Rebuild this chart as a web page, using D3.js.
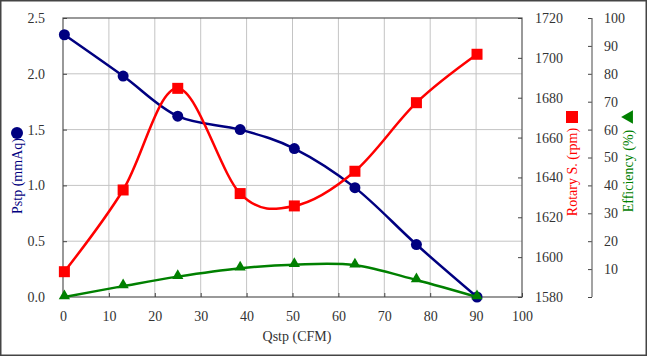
<!DOCTYPE html>
<html><head><meta charset="utf-8">
<script src="https://cdn.jsdelivr.net/npm/d3@7"></script>
<style>
html,body{margin:0;padding:0;background:#fff;}
svg text{font-family:"Liberation Serif","Times New Roman",serif;}
</style></head>
<body><svg id="c" width="647" height="356"></svg>
<script>
// ---- data ----
const qstp       = [0.3, 13.1, 25.0, 38.6, 50.4, 63.6, 77.0, 90.2];
const pstp       = [2.35, 1.98, 1.62, 1.50, 1.33, 0.98, 0.47, 0.00];
const rotary     = [1592.7, 1633.7, 1684.7, 1631.9, 1625.7, 1643.1, 1677.5, 1701.8];
const efficiency = [0.0, 3.9, 7.3, 10.3, 11.6, 11.4, 6.1, 0.0];
const xTicks     = [0,10,20,30,40,50,60,70,80,90,100];
const pTicks     = [0,0.5,1.0,1.5,2.0,2.5];
const rTicks     = [1580,1600,1620,1640,1660,1680,1700,1720];
const eTicks     = [0,10,20,30,40,50,60,70,80,90,100];

const svg = d3.select("#c");
const L=63, R=522, T=18, B=297, EX=592;
const x  = d3.scaleLinear().domain([0,100]).range([L,R]);
const yP = d3.scaleLinear().domain([0,2.5]).range([B,T]);
const yR = d3.scaleLinear().domain([1580,1720]).range([B,T]);
const yE = d3.scaleLinear().domain([0,100]).range([B,T]);

const NAVY="#000080", RED="#ff0000", GREEN="#008000";

// outer border
svg.append("rect").attr("x",0.75).attr("y",0.75).attr("width",645.5).attr("height",354.5)
  .attr("fill","#fff").attr("stroke","#444").attr("stroke-width",1.5);

// grid
const g = svg.append("g");
g.selectAll(".vg").data(xTicks.filter(d=>d>0&&d<100)).join("line")
  .attr("x1",d=>x(d)).attr("x2",d=>x(d)).attr("y1",T).attr("y2",B)
  .attr("stroke","#c4c4c4").attr("stroke-width",1);
g.selectAll(".hg").data(pTicks.filter(d=>d>0&&d<2.5)).join("line")
  .attr("x1",L).attr("x2",R).attr("y1",d=>yP(d)).attr("y2",d=>yP(d))
  .attr("stroke","#c4c4c4").attr("stroke-width",1);

// plot box
svg.append("rect").attr("x",L).attr("y",T).attr("width",R-L).attr("height",B-T)
  .attr("fill","none").attr("stroke","#555").attr("stroke-width",1.2);

function styleAxis(sel){
  sel.select(".domain").remove();
  sel.selectAll(".tick line").attr("stroke","#444");
  sel.selectAll(".tick text").attr("fill","#333").attr("font-size","14px")
     .attr("font-family","Liberation Serif");
}
// x axis (inward ticks)
svg.append("g").attr("transform",`translate(0,${B})`)
  .call(d3.axisBottom(x).tickValues(xTicks).tickSizeInner(-4).tickSizeOuter(0).tickPadding(14).tickFormat(d3.format("d")))
  .call(styleAxis);
// left axis
svg.append("g").attr("transform",`translate(${L},0)`)
  .call(d3.axisLeft(yP).tickValues(pTicks).tickSizeInner(-4).tickSizeOuter(0).tickPadding(18).tickFormat(d3.format(".1f")))
  .call(styleAxis);
// rotary axis
svg.append("g").attr("transform",`translate(${R},0)`)
  .call(d3.axisRight(yR).tickValues(rTicks).tickSizeInner(-4).tickSizeOuter(0).tickPadding(13).tickFormat(d3.format("d")))
  .call(styleAxis);
// efficiency axis
const eg = svg.append("g").attr("transform",`translate(${EX},0)`)
  .call(d3.axisRight(yE).tickValues(eTicks).tickSizeInner(-4).tickSizeOuter(0).tickPadding(12).tickFormat(d=>d===0?"":d))
  .call(styleAxis);
eg.append("line").attr("x1",0).attr("x2",0).attr("y1",T).attr("y2",B).attr("stroke","#666").attr("stroke-width",1.2);

// series
const curve = d3.curveCardinal.tension(0);
function series(vals, ys, color){
  const pts = qstp.map((q,i)=>[x(q), ys(vals[i])]);
  svg.append("path").attr("d", d3.line().curve(curve)(pts))
    .attr("fill","none").attr("stroke",color).attr("stroke-width",2.5);
  return pts;
}
const pP = series(pstp, yP, NAVY);
svg.selectAll(".pc").data(pP).join("circle").attr("cx",d=>d[0]).attr("cy",d=>d[1]).attr("r",5.5).attr("fill",NAVY);
const pR = series(rotary, yR, RED);
svg.selectAll(".rs").data(pR).join("rect").attr("x",d=>d[0]-5.5).attr("y",d=>d[1]-5.5).attr("width",11).attr("height",11).attr("fill",RED);
const pE = series(efficiency, yE, GREEN);
const tri = d3.symbol().type(d3.symbolTriangle).size(55);
svg.selectAll(".et").data(pE).join("path").attr("transform",d=>`translate(${d[0]},${d[1]-1})`).attr("d",tri).attr("fill",GREEN);

// titles
svg.append("text").attr("x",297).attr("y",341).attr("text-anchor","middle")
  .attr("font-size","14px").attr("fill","#333").text("Qstp (CFM)");

svg.append("text").attr("transform","translate(22,176) rotate(-90)").attr("text-anchor","middle")
  .attr("font-size","14px").attr("fill",NAVY).text("Pstp (mmAq)");
svg.append("circle").attr("cx",17).attr("cy",133).attr("r",6).attr("fill",NAVY);

svg.append("text").attr("transform","translate(577,172) rotate(-90)").attr("text-anchor","middle")
  .attr("font-size","14px").attr("fill",RED).text("Rotary S. (rpm)");
svg.append("rect").attr("x",566).attr("y",111).attr("width",12).attr("height",12).attr("fill",RED);

svg.append("text").attr("transform","translate(633,171) rotate(-90)").attr("text-anchor","middle")
  .attr("font-size","14px").attr("fill",GREEN).text("Efficiency (%)");
svg.append("path").attr("transform","translate(629,117) rotate(-90)")
  .attr("d",d3.symbol().type(d3.symbolTriangle).size(80)).attr("fill",GREEN);
</script></body></html>
